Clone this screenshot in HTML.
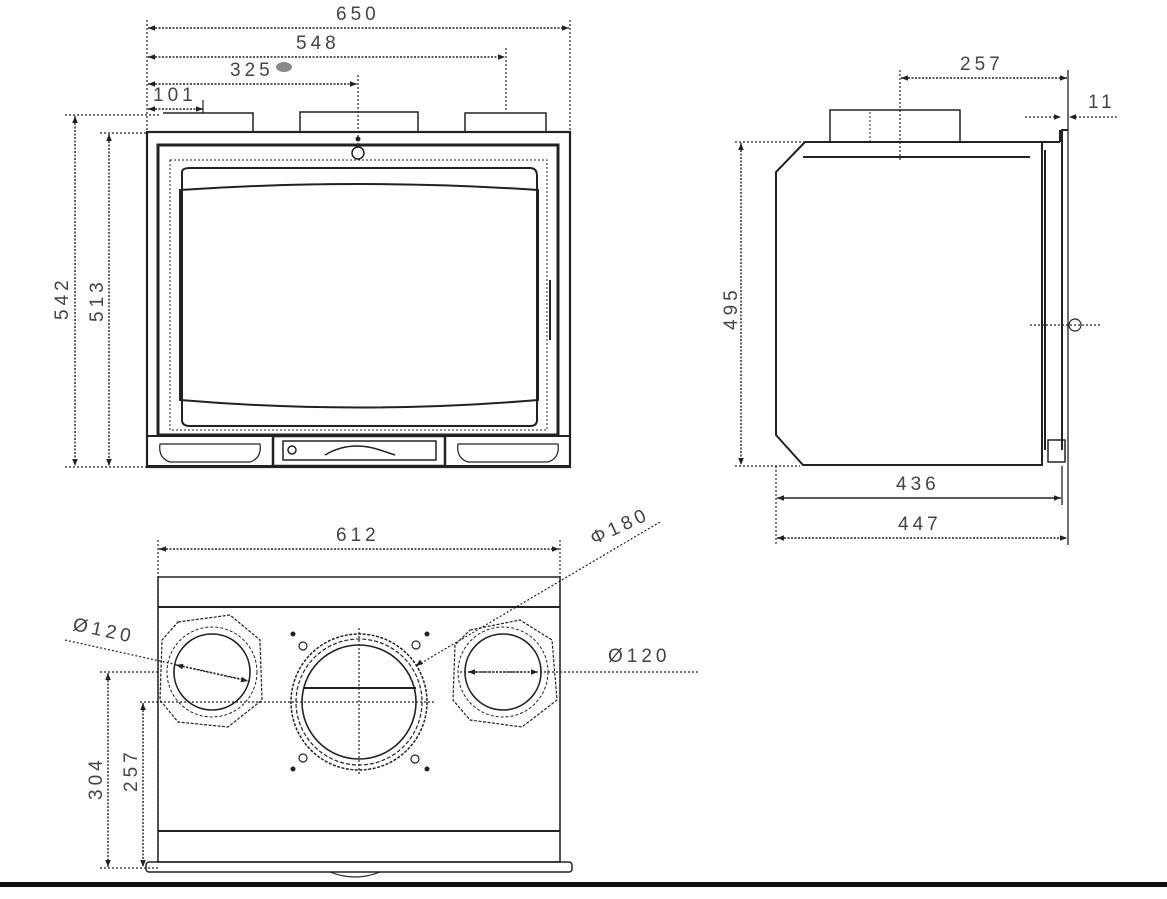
<!DOCTYPE html>
<html><head><meta charset="utf-8"><style>
html,body{margin:0;padding:0;background:#fff}
svg{display:block}
text{font-family:"Liberation Sans",sans-serif;font-size:19px;fill:#444;letter-spacing:4px}
</style></head><body>
<svg width="1167" height="899" viewBox="0 0 1167 899" xmlns="http://www.w3.org/2000/svg">
<defs>
<marker id="a" viewBox="0 0 10 10" refX="10" refY="5" markerWidth="9" markerHeight="7" orient="auto-start-reverse" markerUnits="userSpaceOnUse"><path d="M0,1 L10,5 L0,9 z" fill="#222"/></marker>
</defs>
<g stroke="#222" fill="none">
<g stroke-width="1.2" stroke-dasharray="2,2">
<line x1="147" y1="20" x2="147" y2="133"/>
<line x1="570" y1="20" x2="570" y2="133"/>
<line x1="506" y1="48" x2="506" y2="112"/>
<line x1="358" y1="75" x2="358" y2="145"/>
<line x1="65" y1="115" x2="160" y2="115"/>
<line x1="100" y1="133" x2="147" y2="133"/>
<line x1="65" y1="467" x2="150" y2="467"/>
</g>
<g stroke-width="1.4" stroke-dasharray="2,1.5" marker-start="url(#a)" marker-end="url(#a)">
<line x1="148" y1="28" x2="569" y2="28"/>
<line x1="148" y1="57" x2="505" y2="57"/>
<line x1="148" y1="84" x2="357" y2="84"/>
<line x1="148" y1="109" x2="203" y2="109"/>
<line x1="75" y1="116" x2="75" y2="466"/>
<line x1="109" y1="134" x2="109" y2="466"/>
</g>
<line x1="203" y1="100" x2="203" y2="113" stroke-width="1.2"/>
<path d="M163 113 H253 V132 M300 132 V112 H418 V132 M465 132 V113 H546 V132" stroke-width="1.5"/>
<rect x="147" y="132" width="423" height="335" stroke-width="2.2"/>
<rect x="158" y="145" width="400" height="290" stroke-width="3"/>
<rect x="170" y="160" width="377" height="270" stroke-width="1" stroke-dasharray="2,2"/>
<path d="M182 172 Q182 168 190 168 H530 Q537 168 537 176 V420 Q537 426 530 426 H190 Q182 426 182 420 Z" stroke-width="2"/>
<path d="M180 190 Q360 178 538 190 V400 Q360 415 180 400 Z" stroke-width="2"/>
<circle cx="358" cy="153" r="6" stroke-width="1.5"/>
<circle cx="358" cy="139" r="2" fill="#222"/>
<line x1="550" y1="280" x2="550" y2="340" stroke-width="2"/>
<rect x="147" y="436" width="423" height="30" stroke-width="2"/>
<rect x="273" y="436" width="172" height="30" stroke-width="2.5"/>
<rect x="283" y="441" width="153" height="19" stroke-width="1.5"/>
<path d="M160 444 H260 Q262 458 250 462 H170 Q158 458 160 444 Z" stroke-width="1.2"/>
<path d="M458 444 H558 Q560 458 548 462 H468 Q456 458 458 444 Z" stroke-width="1.2"/>
<path d="M325 455 Q350 440 380 450 L395 455" stroke-width="1.5"/>
<circle cx="292" cy="450" r="4" stroke-width="1.5"/>
<g stroke-width="1.2" stroke-dasharray="2,2">
<line x1="900" y1="70" x2="900" y2="162"/>
<line x1="735" y1="142" x2="830" y2="142"/>
<line x1="735" y1="466" x2="800" y2="466"/>
<line x1="776" y1="466" x2="776" y2="545"/>
<line x1="1030" y1="325" x2="1100" y2="325"/>
</g>
<line x1="1068" y1="70" x2="1068" y2="545" stroke-width="1.3"/>
<line x1="1062" y1="466" x2="1062" y2="505" stroke-width="1.3"/>
<g stroke-width="1.4" stroke-dasharray="2,1.5" marker-start="url(#a)" marker-end="url(#a)">
<line x1="901" y1="78" x2="1067" y2="78"/>
<line x1="741" y1="143" x2="741" y2="465"/>
<line x1="777" y1="538" x2="1067" y2="538"/>
</g>
<line x1="777" y1="498" x2="1061" y2="498" stroke-width="1.6" marker-start="url(#a)" marker-end="url(#a)"/>
<line x1="1025" y1="117" x2="1061" y2="117" stroke-width="1.2" stroke-dasharray="2,2" marker-end="url(#a)"/>
<line x1="1117" y1="117" x2="1069" y2="117" stroke-width="1.2" stroke-dasharray="2,2" marker-end="url(#a)"/>
<path d="M830 142 V110 H960 V142" stroke-width="1.5"/>
<line x1="870" y1="112" x2="870" y2="142" stroke-width="1" stroke-dasharray="2,2"/>
<path d="M805 142 H1060 M805 142 L776 172 V435 L803 465 H1042 V142 M803 157 H1030 M1060 142 V130 M1061 130 H1068 M1062 130 V450 M1045 150 V450" stroke-width="2"/>
<path d="M1048 440 H1065 V462 H1048 Z" stroke-width="1.5"/>
<circle cx="1075" cy="325" r="6" stroke-width="1.2"/>
<g stroke-width="1.2" stroke-dasharray="2,2">
<line x1="158" y1="540" x2="158" y2="862"/>
<line x1="560" y1="540" x2="560" y2="862"/>
<line x1="100" y1="672" x2="160" y2="672"/>
<line x1="140" y1="702" x2="435" y2="702"/>
<line x1="359" y1="628" x2="359" y2="776"/>
<line x1="460" y1="672" x2="700" y2="672"/>
<line x1="100" y1="868" x2="160" y2="868"/>
<line x1="65" y1="640" x2="250" y2="681"/>
<line x1="660" y1="522" x2="418" y2="665"/>
</g>
<g stroke-width="1.4" stroke-dasharray="2,1.5" marker-start="url(#a)" marker-end="url(#a)">
<line x1="159" y1="549" x2="559" y2="549"/>
<line x1="108" y1="673" x2="108" y2="867"/>
<line x1="143" y1="703" x2="143" y2="867"/>
<line x1="176" y1="665" x2="248" y2="681"/>
<line x1="468" y1="672" x2="538" y2="672"/>
</g>
<line x1="420" y1="663" x2="416" y2="666" stroke-width="2" marker-end="url(#a)"/>
<rect x="158" y="577" width="402" height="285" stroke-width="1.5"/>
<line x1="158" y1="607" x2="560" y2="607" stroke-width="2"/>
<line x1="158" y1="831" x2="560" y2="831" stroke-width="2"/>
<rect x="146" y="862" width="426" height="10" rx="3" stroke-width="1.5"/>
<path d="M330 872 Q355 882 380 872" stroke-width="1.2"/>
<path d="M178 622 L230 615 L260 640 L262 700 L228 727 L178 722 L160 700 L162 640 Z" stroke-width="1.2" stroke-dasharray="3,1.5"/>
<circle cx="212" cy="672" r="38" stroke-width="1.6"/>
<circle cx="212" cy="672" r="45" stroke-width="1" stroke-dasharray="3,2"/>
<path d="M470 630 L520 620 L552 640 L557 700 L522 727 L470 720 L453 700 L455 645 Z" stroke-width="1.2" stroke-dasharray="3,1.5"/>
<circle cx="503" cy="672" r="38" stroke-width="1.6"/>
<circle cx="503" cy="672" r="45" stroke-width="1" stroke-dasharray="3,2"/>
<circle cx="359" cy="702" r="57" stroke-width="1.6"/>
<circle cx="359" cy="702" r="63" stroke-width="1.2" stroke-dasharray="4,2"/>
<circle cx="359" cy="702" r="68" stroke-width="1.5" stroke-dasharray="3,1.5"/>
<line x1="304" y1="688" x2="416" y2="688" stroke-width="2"/>
<g fill="#222" stroke="none"><circle cx="293" cy="634" r="2.5"/><circle cx="427" cy="634" r="2.5"/><circle cx="293" cy="769" r="2.5"/><circle cx="427" cy="769" r="2.5"/></g>
<g stroke-width="1.2"><circle cx="303" cy="646" r="4"/><circle cx="416" cy="645" r="4"/><circle cx="303" cy="758" r="4"/><circle cx="415" cy="759" r="4"/></g>
</g>
<rect x="0" y="882" width="1167" height="5" fill="#111"/>
<text x="336" y="20">650</text>
<text x="296" y="49">548</text>
<text x="230" y="76">325</text>
<ellipse cx="284" cy="67" rx="8" ry="5" fill="#888"/>
<text x="153" y="101">101</text>
<text transform="translate(68,320) rotate(-90)">542</text>
<text transform="translate(103,322) rotate(-90)">513</text>
<text x="960" y="70">257</text>
<text x="1088" y="108">11</text>
<text transform="translate(737,330) rotate(-90)">495</text>
<text x="896" y="490">436</text>
<text x="898" y="530">447</text>
<text x="336" y="541">612</text>
<text transform="translate(594,545) rotate(-25)">Φ180</text>
<text transform="translate(72,630) rotate(12)">Ø120</text>
<text x="608" y="662">Ø120</text>
<text transform="translate(102,800) rotate(-90)">304</text>
<text transform="translate(137,792) rotate(-90)">257</text>
</svg>
</body></html>
